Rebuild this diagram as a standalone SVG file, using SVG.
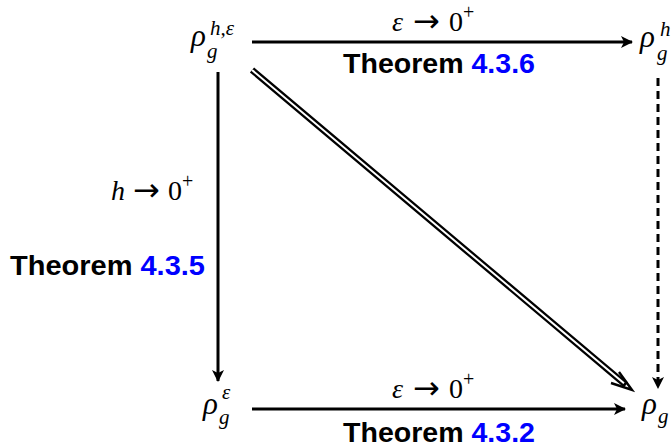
<svg xmlns="http://www.w3.org/2000/svg" width="671" height="448" viewBox="0 0 671 448">
<defs>
<style>
.m{font-family:"Liberation Serif","DejaVu Serif",serif;font-style:italic;fill:#000}
.mu{font-family:"Liberation Serif","DejaVu Serif",serif;fill:#000}
.ar{font-family:"DejaVu Sans",sans-serif;fill:#000;font-size:32px}
.t{font-family:"Liberation Sans","DejaVu Sans",sans-serif;font-weight:bold;font-size:27px;fill:#000}
.ref{fill:#0000ff}
.ln{stroke:#000;stroke-width:3;fill:none}
</style>
<marker id="ah" viewBox="0 0 12 12" refX="11" refY="6" markerWidth="12" markerHeight="12" markerUnits="userSpaceOnUse" orient="auto">
<path d="M0,0 L12,6 L0,12 L3,6 Z" fill="#000"/>
</marker>
</defs>
<rect width="671" height="448" fill="#fff"/>
<g id="connectors">
<line class="ln" x1="252" y1="42" x2="632" y2="42" marker-end="url(#ah)"/>
<line class="ln" x1="252" y1="409" x2="625" y2="409" marker-end="url(#ah)"/>
<line class="ln" x1="218" y1="72" x2="218" y2="381" marker-end="url(#ah)"/>
<line class="ln" x1="658" y1="78" x2="658" y2="388" stroke-dasharray="8,5" marker-end="url(#ah)"/>
<g id="diag">
<line x1="252" y1="70" x2="626" y2="385" stroke="#000" stroke-width="6.5"/>
<line x1="252" y1="70" x2="624" y2="383.3" stroke="#fff" stroke-width="2"/>
<path d="M619,372 L632,390 L611,383" fill="none" stroke="#000" stroke-width="2.4"/>
</g>
</g>
<g id="n-rho-h-eps">
<text class="m" x="191" y="46" font-size="31">ρ</text>
<text class="m" x="207" y="58" font-size="21">g</text>
<text class="m" x="210" y="35" font-size="21">h,ε</text>
</g>
<g id="n-rho-h">
<text class="m" x="640" y="47" font-size="31">ρ</text>
<text class="m" x="657" y="60" font-size="21">g</text>
<text class="m" x="660" y="36" font-size="21">h</text>
</g>
<g id="n-rho-eps">
<text class="m" x="203" y="414" font-size="31">ρ</text>
<text class="m" x="219" y="424" font-size="21">g</text>
<text class="m" x="222" y="399" font-size="21">ε</text>
</g>
<g id="n-rho">
<text class="m" x="642" y="414" font-size="31">ρ</text>
<text class="m" x="658" y="423" font-size="21">g</text>
</g>
<g id="labels">
<text class="m" x="392" y="31" font-size="28">ε</text>
<text class="ar" x="413" y="32">→</text>
<text class="mu" x="449" y="31" font-size="28">0</text>
<text class="mu" x="463" y="19" font-size="20">+</text>
<text class="t" x="343" y="73" textLength="192" lengthAdjust="spacingAndGlyphs">Theorem <tspan class="ref">4.3.6</tspan></text>
<text class="m" x="111" y="200" font-size="28">h</text>
<text class="ar" x="133" y="201">→</text>
<text class="mu" x="168" y="200" font-size="28">0</text>
<text class="mu" x="182" y="188" font-size="20">+</text>
<text class="t" x="10" y="275" textLength="195" lengthAdjust="spacingAndGlyphs">Theorem <tspan class="ref">4.3.5</tspan></text>
<text class="m" x="392" y="398" font-size="28">ε</text>
<text class="ar" x="413" y="399">→</text>
<text class="mu" x="449" y="398" font-size="28">0</text>
<text class="mu" x="463" y="386" font-size="20">+</text>
<text class="t" x="343" y="442" textLength="192" lengthAdjust="spacingAndGlyphs">Theorem <tspan class="ref">4.3.2</tspan></text>
</g>
</svg>
